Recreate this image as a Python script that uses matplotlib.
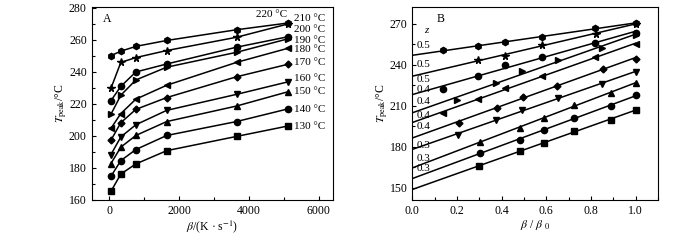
#Import required libraries
import numpy as np
import matplotlib
matplotlib.use("Agg")
import matplotlib.pyplot as plt
from matplotlib.ticker import MultipleLocator

plt.rcParams['font.family'] = ['Liberation Serif', 'DejaVu Serif']
plt.rcParams['mathtext.fontset'] = 'stix'

#Data for panel A: heating rate beta and peak temperature for each isotherm
beta = [50, 335, 765, 1650, 3650, 5120]
temps = ['220', '210', '200', '190', '180', '170', '160', '150', '140', '130']
markers = ['h', '*', 'o', '>', '<', 'D', 'v', '^', 'o', 's']
msizes = [4.5, 5.5, 4.5, 4.5, 4.5, 3.5, 4.5, 4.5, 4.5, 3.8]
t220 = [250.2, 253.0, 256.0, 259.7, 266.4, 270.6]
t210 = [229.7, 246.0, 249.0, 253.4, 261.7, 270.0]
t200 = [222.0, 231.0, 240.0, 245.0, 255.5, 262.0]
t190 = [213.5, 225.5, 235.0, 243.0, 252.3, 260.7]
t180 = [204.7, 214.0, 223.0, 231.7, 246.0, 254.8]
t170 = [197.3, 208.3, 216.6, 224.0, 237.0, 244.8]
t160 = [188.3, 199.4, 207.0, 216.0, 226.0, 233.8]
t150 = [182.7, 193.0, 200.3, 209.0, 218.7, 227.6]
t140 = [174.7, 184.6, 191.5, 200.3, 209.0, 216.9]
t130 = [165.3, 176.2, 182.5, 190.8, 199.7, 206.2]
tpeak_a = [t220, t210, t200, t190, t180, t170, t160, t150, t140, t130]
label_y = [275.8, 273.2, 266.4, 259.8, 254.0, 246.0, 236.0, 227.8, 216.6, 206.2]

#Data for panel B: normalised rate positions and peak temperatures
xb220 = [0.139, 0.293, 0.413, 0.581, 0.82, 1.0]
yb220 = [250.5, 253.4, 256.6, 260.2, 266.6, 270.5]
xb210 = [0.294, 0.414, 0.581, 0.823, 1.0]
yb210 = [243.5, 246.2, 254.3, 262.7, 270.0]
xb200 = [0.136, 0.296, 0.416, 0.581, 0.82, 1.0]
yb200 = [222.4, 231.7, 240.0, 245.6, 255.9, 263.4]
xb190 = [0.199, 0.376, 0.491, 0.651, 0.85, 1.0]
yb190 = [213.9, 226.8, 235.4, 243.7, 252.3, 261.5]
xb180 = [0.136, 0.296, 0.416, 0.581, 0.82, 1.0]
yb180 = [204.6, 214.6, 223.2, 231.5, 245.6, 254.9]
xb170 = [0.207, 0.379, 0.494, 0.648, 0.853, 1.0]
yb170 = [197.6, 208.6, 216.6, 224.6, 236.8, 244.4]
xb160 = [0.204, 0.376, 0.493, 0.651, 0.85, 1.0]
yb160 = [188.8, 199.3, 207.1, 215.9, 226.1, 234.6]
xb150 = [0.301, 0.48, 0.588, 0.723, 0.888, 1.0]
yb150 = [183.4, 193.6, 201.2, 210.2, 219.3, 226.8]
xb140 = [0.301, 0.48, 0.588, 0.723, 0.888, 1.0]
yb140 = [175.3, 185.1, 191.9, 201.2, 209.7, 217.6]
xb130 = [0.30, 0.48, 0.588, 0.723, 0.888, 1.0]
yb130 = [165.8, 176.6, 182.7, 191.4, 199.8, 206.6]
xb = [xb220, xb210, xb200, xb190, xb180, xb170, xb160, xb150, xb140, xb130]
yb = [yb220, yb210, yb200, yb190, yb180, yb170, yb160, yb150, yb140, yb130]
z_vals = ['0.5', '0.5', '0.5', '0.4', '0.4', '0.4', '0.4', '0.3', '0.3', '0.3']
z_y = [254.1, 240.0, 229.0, 222.0, 212.7, 203.0, 194.4, 181.0, 171.2, 163.9]

fs = 8.5
lfs = 8
fig = plt.figure(figsize=(7, 2.4), dpi=100)
ax1 = fig.add_axes([0.131, 0.167, 0.344, 0.803])
ax2 = fig.add_axes([0.589, 0.167, 0.351, 0.803])

#Panel A
for i in range(len(temps)):
    ax1.plot(beta, tpeak_a[i], color='black', lw=1.1, marker=markers[i], ms=msizes[i])
    if i == 0:
        ax1.text(4210, label_y[i], temps[i] + ' °C', fontsize=lfs, ha='left', va='center')
    else:
        ax1.text(5300, label_y[i], temps[i] + ' °C', fontsize=lfs, ha='left', va='center')
ax1.set_xlim(-500, 6400)
ax1.set_ylim(160, 280.5)
ax1.xaxis.set_major_locator(MultipleLocator(2000))
ax1.xaxis.set_minor_locator(MultipleLocator(1000))
ax1.yaxis.set_major_locator(MultipleLocator(20))
ax1.yaxis.set_minor_locator(MultipleLocator(10))
ax1.set_xlabel(r'$\beta$/(K · s$^{-1}$)', fontsize=fs, labelpad=1)
ax1.set_ylabel(r'$T_{\rm peak}$/°C', fontsize=fs, labelpad=0)
ax1.text(0.066, 0.938, 'A', transform=ax1.transAxes, fontsize=fs, ha='center', va='center')

#Panel B: points plus linear fit lines from 0 to 1
for i in range(len(temps)):
    ax2.plot(xb[i], yb[i], linestyle='none', color='black', marker=markers[i], ms=msizes[i])
    k, b = np.polyfit(xb[i], yb[i], 1)
    ax2.plot([0, 1.0], [b, k + b], color='black', lw=1.1)
    ax2.text(0.02, z_y[i], z_vals[i], fontsize=lfs, ha='left', va='center')
ax2.text(0.064, 264.6, 'z', fontsize=lfs, style='italic', ha='center', va='center')
ax2.set_xlim(0, 1.1)
ax2.set_ylim(141, 282)
ax2.xaxis.set_major_locator(MultipleLocator(0.2))
ax2.xaxis.set_minor_locator(MultipleLocator(0.1))
ax2.yaxis.set_major_locator(MultipleLocator(30))
ax2.yaxis.set_minor_locator(MultipleLocator(15))
ax2.xaxis.set_major_formatter(matplotlib.ticker.FormatStrFormatter('%.1f'))
ax2.set_xlabel(r'$\beta$ / $\beta$ $_0$', fontsize=fs, labelpad=1)
ax2.set_ylabel(r'$T_{\rm peak}$/°C', fontsize=fs, labelpad=0)
ax2.text(0.117, 0.938, 'B', transform=ax2.transAxes, fontsize=fs, ha='center', va='center')

for ax in (ax1, ax2):
    ax.tick_params(which='both', direction='in', labelsize=fs, width=0.8)
    ax.tick_params(which='major', length=3)
    ax.tick_params(which='minor', length=2)
    for s in ax.spines.values():
        s.set_linewidth(0.8)

fig.savefig('out.png', dpi=100)
